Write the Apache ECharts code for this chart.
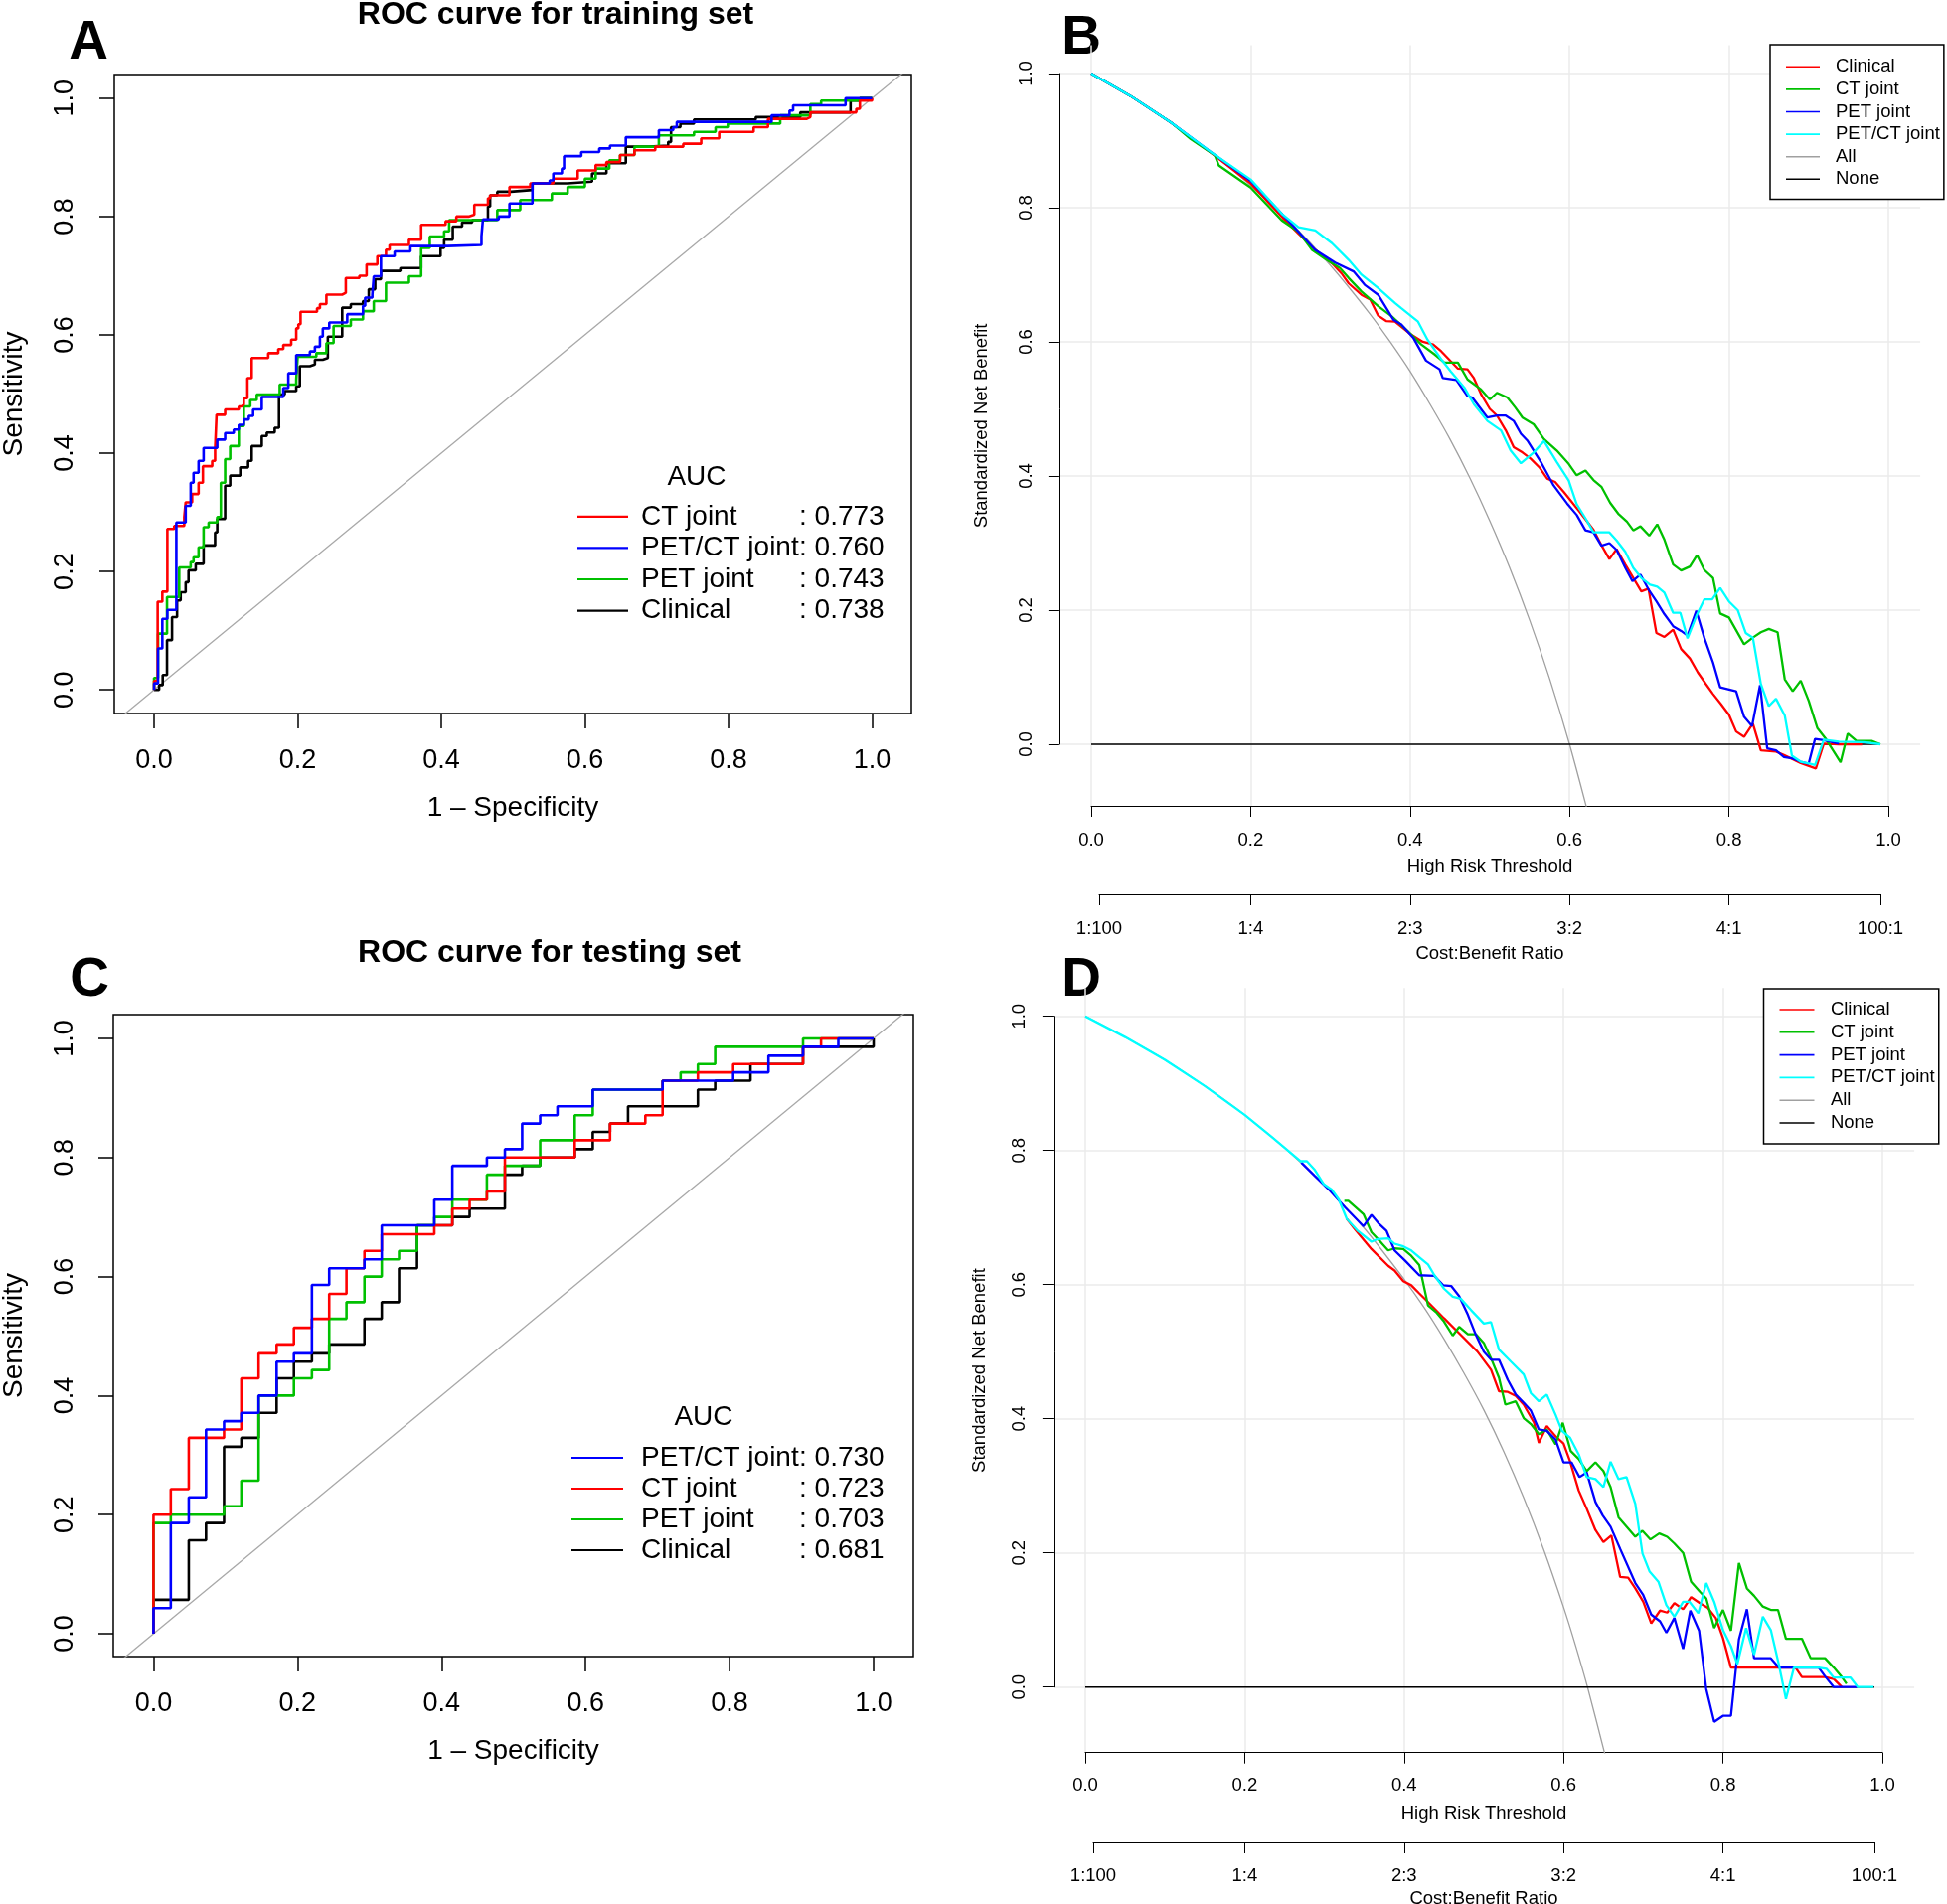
<!DOCTYPE html>
<html><head><meta charset="utf-8">
<script src="https://cdn.jsdelivr.net/npm/echarts@6/dist/echarts.min.js"></script>
<style>html,body{margin:0;padding:0;background:#fff}#c{width:1959px;height:1916px}</style>
</head><body><div id="c"></div>
<script>
// ================= DATA =================
const rocTicks = [0, 0.2, 0.4, 0.6, 0.8, 1.0];
const cbTicks = [0.01, 0.2, 0.4, 0.6, 0.8, 0.99];
const cbLabels = ['1:100', '1:4', '2:3', '3:2', '4:1', '100:1'];
const rocNamesA = ['CT joint', 'PET/CT joint', 'PET joint', 'Clinical'];
const aucA = ['0.773', '0.760', '0.743', '0.738'];
const rocNamesC = ['PET/CT joint', 'CT joint', 'PET joint', 'Clinical'];
const aucC = ['0.730', '0.723', '0.703', '0.681'];
const dcaNames = ['Clinical', 'CT joint', 'PET joint', 'PET/CT joint', 'All', 'None'];
const diagLine = [[-0.07, -0.07], [1.07, 1.07]];

// ROC training set (1-specificity, sensitivity) at each step
const rocA_ct = [[0,0],[0,0.015],[0.005,0.149],[0.0115,0.166],[0.0185,0.272],[0.028,0.277],[0.042,0.292],[0.044,0.317],[0.053,0.331],[0.062,0.35],[0.068,0.378],[0.081,0.387],[0.085,0.407],[0.087,0.465],[0.099,0.474],[0.118,0.479],[0.122,0.482],[0.125,0.493],[0.13,0.527],[0.136,0.561],[0.159,0.569],[0.173,0.576],[0.18,0.583],[0.191,0.592],[0.198,0.611],[0.201,0.618],[0.204,0.639],[0.227,0.645],[0.231,0.652],[0.24,0.668],[0.262,0.671],[0.267,0.696],[0.286,0.7],[0.296,0.719],[0.311,0.733],[0.323,0.744],[0.328,0.752],[0.355,0.761],[0.372,0.786],[0.406,0.792],[0.421,0.8],[0.438,0.803],[0.446,0.82],[0.465,0.831],[0.468,0.836],[0.495,0.85],[0.524,0.856],[0.556,0.864],[0.59,0.878],[0.615,0.887],[0.63,0.892],[0.649,0.904],[0.669,0.912],[0.698,0.918],[0.737,0.923],[0.762,0.932],[0.787,0.943],[0.835,0.951],[0.855,0.965],[0.909,0.968],[0.914,0.976],[0.978,0.982],[0.983,0.996],[1,1]];
const rocA_petct = [[0,0],[0,0.011],[0.0055,0.07],[0.0115,0.12],[0.0185,0.135],[0.031,0.283],[0.044,0.311],[0.051,0.35],[0.055,0.367],[0.062,0.387],[0.069,0.409],[0.088,0.423],[0.099,0.434],[0.111,0.44],[0.118,0.448],[0.125,0.457],[0.132,0.463],[0.138,0.474],[0.15,0.495],[0.18,0.51],[0.187,0.535],[0.198,0.566],[0.217,0.572],[0.224,0.58],[0.231,0.597],[0.235,0.611],[0.244,0.621],[0.269,0.635],[0.291,0.649],[0.294,0.663],[0.304,0.668],[0.306,0.699],[0.316,0.733],[0.335,0.741],[0.357,0.75],[0.409,0.752],[0.456,0.767],[0.458,0.795],[0.48,0.8],[0.495,0.822],[0.527,0.856],[0.551,0.861],[0.556,0.873],[0.568,0.881],[0.571,0.902],[0.595,0.909],[0.62,0.915],[0.635,0.92],[0.657,0.934],[0.703,0.946],[0.723,0.951],[0.728,0.96],[0.86,0.971],[0.885,0.979],[0.89,0.988],[0.963,1],[1,1]];
const rocA_pet = [[0,0],[0,0.02],[0.0055,0.095],[0.018,0.157],[0.035,0.207],[0.051,0.216],[0.055,0.224],[0.062,0.241],[0.069,0.275],[0.076,0.283],[0.088,0.292],[0.093,0.35],[0.099,0.39],[0.106,0.412],[0.118,0.446],[0.125,0.479],[0.134,0.49],[0.143,0.499],[0.175,0.516],[0.198,0.524],[0.2,0.563],[0.226,0.569],[0.24,0.586],[0.25,0.615],[0.274,0.626],[0.291,0.64],[0.306,0.657],[0.323,0.688],[0.355,0.699],[0.372,0.747],[0.384,0.766],[0.404,0.775],[0.411,0.794],[0.478,0.811],[0.51,0.828],[0.554,0.839],[0.576,0.85],[0.6,0.864],[0.615,0.881],[0.634,0.895],[0.649,0.904],[0.669,0.918],[0.703,0.937],[0.752,0.943],[0.782,0.951],[0.799,0.957],[0.872,0.971],[0.914,0.99],[0.929,0.996],[0.983,1],[1,1]];
const rocA_clin = [[0,0],[0.007,0.008],[0.012,0.025],[0.018,0.084],[0.025,0.123],[0.032,0.151],[0.037,0.165],[0.044,0.182],[0.048,0.202],[0.058,0.213],[0.069,0.244],[0.085,0.266],[0.088,0.289],[0.099,0.345],[0.106,0.362],[0.12,0.376],[0.131,0.387],[0.136,0.412],[0.15,0.429],[0.157,0.435],[0.168,0.443],[0.174,0.499],[0.182,0.505],[0.198,0.513],[0.203,0.547],[0.217,0.55],[0.224,0.558],[0.235,0.561],[0.242,0.597],[0.262,0.646],[0.274,0.652],[0.291,0.657],[0.299,0.677],[0.308,0.694],[0.316,0.708],[0.343,0.713],[0.372,0.733],[0.399,0.747],[0.404,0.761],[0.416,0.783],[0.429,0.79],[0.443,0.794],[0.465,0.817],[0.468,0.836],[0.478,0.842],[0.497,0.845],[0.527,0.856],[0.576,0.859],[0.61,0.873],[0.63,0.89],[0.657,0.918],[0.689,0.92],[0.716,0.926],[0.72,0.951],[0.733,0.957],[0.752,0.964],[0.838,0.968],[0.9,0.976],[0.97,0.996],[0.983,1],[1,1]];

// ROC testing set
const rocC_petct = [[0,0],[0,0.043],[0.024,0.186],[0.049,0.229],[0.073,0.343],[0.098,0.357],[0.122,0.371],[0.146,0.4],[0.171,0.457],[0.195,0.471],[0.22,0.586],[0.244,0.614],[0.293,0.629],[0.317,0.686],[0.39,0.729],[0.415,0.786],[0.463,0.8],[0.488,0.814],[0.512,0.857],[0.537,0.871],[0.561,0.886],[0.61,0.914],[0.707,0.929],[0.805,0.943],[0.854,0.971],[0.902,0.986],[0.951,1],[1,1]];
const rocC_ct = [[0,0],[0,0.2],[0.024,0.243],[0.049,0.329],[0.098,0.343],[0.122,0.429],[0.146,0.471],[0.171,0.486],[0.195,0.514],[0.22,0.529],[0.244,0.571],[0.268,0.614],[0.293,0.643],[0.317,0.671],[0.39,0.686],[0.415,0.714],[0.439,0.729],[0.463,0.743],[0.488,0.8],[0.585,0.829],[0.634,0.857],[0.683,0.871],[0.707,0.929],[0.756,0.943],[0.805,0.957],[0.902,0.986],[0.927,1],[1,1]];
const rocC_pet = [[0,0],[0,0.186],[0.024,0.2],[0.098,0.214],[0.122,0.257],[0.146,0.4],[0.195,0.429],[0.22,0.443],[0.244,0.529],[0.268,0.557],[0.293,0.6],[0.317,0.629],[0.341,0.643],[0.366,0.686],[0.39,0.7],[0.415,0.729],[0.463,0.771],[0.488,0.786],[0.537,0.829],[0.585,0.871],[0.61,0.914],[0.707,0.929],[0.732,0.943],[0.756,0.957],[0.78,0.986],[0.902,1],[1,1]];
const rocC_clin = [[0,0],[0,0.057],[0.049,0.157],[0.073,0.186],[0.098,0.314],[0.122,0.329],[0.146,0.371],[0.171,0.429],[0.195,0.457],[0.22,0.471],[0.244,0.486],[0.293,0.529],[0.317,0.557],[0.341,0.614],[0.366,0.686],[0.415,0.7],[0.439,0.714],[0.488,0.771],[0.512,0.786],[0.537,0.8],[0.585,0.814],[0.61,0.843],[0.634,0.857],[0.659,0.886],[0.756,0.914],[0.78,0.929],[0.829,0.957],[0.902,0.986],[1,1]];

// DCA training (threshold, standardized net benefit)
const dcaB_clin = [[0,1],[0.05,0.966],[0.1,0.927],[0.15,0.882],[0.2,0.836],[0.24,0.785],[0.26,0.761],[0.281,0.737],[0.302,0.717],[0.314,0.702],[0.323,0.687],[0.339,0.67],[0.35,0.663],[0.36,0.639],[0.37,0.631],[0.381,0.63],[0.401,0.611],[0.416,0.6],[0.429,0.596],[0.439,0.586],[0.451,0.571],[0.46,0.56],[0.472,0.559],[0.48,0.546],[0.489,0.522],[0.5,0.5],[0.509,0.49],[0.52,0.468],[0.53,0.443],[0.541,0.435],[0.551,0.426],[0.562,0.413],[0.572,0.396],[0.582,0.391],[0.593,0.376],[0.601,0.364],[0.611,0.349],[0.63,0.32],[0.64,0.297],[0.65,0.276],[0.659,0.291],[0.67,0.268],[0.68,0.248],[0.69,0.228],[0.699,0.232],[0.709,0.166],[0.719,0.16],[0.73,0.171],[0.74,0.142],[0.751,0.128],[0.761,0.107],[0.771,0.09],[0.78,0.075],[0.79,0.06],[0.8,0.044],[0.809,0.019],[0.819,0.011],[0.83,0.031],[0.84,-0.009],[0.859,-0.011],[0.869,-0.016],[0.89,-0.028],[0.909,-0.036],[0.919,0.001],[0.938,0],[0.967,0]];
const dcaB_ct = [[0,1],[0.05,0.966],[0.1,0.927],[0.125,0.902],[0.155,0.878],[0.16,0.863],[0.2,0.83],[0.239,0.781],[0.26,0.764],[0.277,0.737],[0.293,0.724],[0.312,0.71],[0.323,0.695],[0.339,0.675],[0.36,0.653],[0.377,0.638],[0.397,0.616],[0.414,0.596],[0.431,0.581],[0.443,0.569],[0.46,0.569],[0.472,0.544],[0.489,0.529],[0.5,0.514],[0.509,0.524],[0.522,0.517],[0.532,0.502],[0.541,0.487],[0.555,0.477],[0.568,0.455],[0.584,0.438],[0.599,0.418],[0.609,0.401],[0.62,0.408],[0.63,0.394],[0.64,0.384],[0.651,0.36],[0.661,0.344],[0.672,0.332],[0.68,0.319],[0.689,0.325],[0.7,0.311],[0.71,0.328],[0.719,0.305],[0.73,0.268],[0.74,0.259],[0.751,0.265],[0.76,0.282],[0.769,0.26],[0.78,0.248],[0.789,0.195],[0.8,0.189],[0.819,0.149],[0.83,0.159],[0.84,0.167],[0.85,0.172],[0.861,0.167],[0.87,0.097],[0.88,0.079],[0.89,0.095],[0.9,0.065],[0.911,0.024],[0.921,0.009],[0.929,-0.006],[0.94,-0.027],[0.949,0.016],[0.96,0.005],[0.979,0.005],[0.99,0]];
const dcaB_pet = [[0,1],[0.05,0.966],[0.1,0.927],[0.15,0.883],[0.2,0.84],[0.239,0.791],[0.26,0.764],[0.281,0.737],[0.306,0.718],[0.329,0.705],[0.343,0.685],[0.36,0.67],[0.379,0.633],[0.389,0.626],[0.404,0.606],[0.42,0.572],[0.437,0.559],[0.441,0.546],[0.458,0.543],[0.472,0.519],[0.478,0.517],[0.497,0.487],[0.509,0.49],[0.52,0.49],[0.53,0.482],[0.539,0.463],[0.547,0.453],[0.564,0.421],[0.58,0.386],[0.597,0.359],[0.609,0.342],[0.62,0.319],[0.63,0.316],[0.64,0.296],[0.65,0.3],[0.659,0.29],[0.67,0.263],[0.679,0.243],[0.689,0.253],[0.699,0.231],[0.709,0.213],[0.719,0.194],[0.73,0.176],[0.74,0.169],[0.748,0.162],[0.759,0.199],[0.769,0.159],[0.78,0.122],[0.789,0.085],[0.809,0.079],[0.819,0.041],[0.829,0.027],[0.839,0.088],[0.848,-0.006],[0.859,-0.009],[0.869,-0.019],[0.879,-0.021],[0.89,-0.026],[0.9,-0.029],[0.908,0.008],[0.919,0.006],[0.938,0.001]];
const dcaB_petct = [[0,1],[0.05,0.966],[0.1,0.927],[0.15,0.883],[0.2,0.842],[0.239,0.791],[0.26,0.771],[0.281,0.766],[0.302,0.747],[0.323,0.722],[0.339,0.7],[0.36,0.68],[0.381,0.658],[0.389,0.65],[0.41,0.63],[0.422,0.603],[0.439,0.574],[0.451,0.556],[0.468,0.532],[0.48,0.507],[0.497,0.482],[0.514,0.468],[0.526,0.438],[0.539,0.419],[0.555,0.435],[0.568,0.452],[0.584,0.421],[0.599,0.393],[0.609,0.358],[0.62,0.337],[0.63,0.316],[0.65,0.316],[0.659,0.304],[0.67,0.287],[0.68,0.263],[0.69,0.248],[0.701,0.238],[0.71,0.235],[0.719,0.226],[0.73,0.196],[0.739,0.196],[0.748,0.158],[0.759,0.191],[0.769,0.216],[0.779,0.216],[0.789,0.233],[0.8,0.213],[0.811,0.2],[0.821,0.166],[0.83,0.159],[0.84,0.09],[0.85,0.057],[0.859,0.068],[0.87,0.043],[0.879,-0.017],[0.89,-0.026],[0.902,-0.029],[0.908,-0.031],[0.919,0.007],[0.938,0.004],[0.969,0.003],[0.99,0]];
const dcaB_all = [[0,1],[0.05,0.965],[0.1,0.926],[0.15,0.882],[0.2,0.833],[0.25,0.778],[0.3,0.714],[0.35,0.641],[0.375,0.6],[0.4,0.556],[0.425,0.507],[0.45,0.455],[0.475,0.397],[0.5,0.333],[0.525,0.263],[0.55,0.185],[0.575,0.098],[0.6,0],[0.625,-0.111]];
const dcaB_none = [[0,0],[0.99,0]];

// DCA testing
const dcaD_clin = [[0.328,0.698],[0.338,0.683],[0.359,0.653],[0.38,0.628],[0.388,0.621],[0.399,0.605],[0.409,0.599],[0.419,0.587],[0.43,0.574],[0.45,0.55],[0.471,0.525],[0.492,0.5],[0.509,0.473],[0.519,0.441],[0.53,0.44],[0.54,0.434],[0.55,0.421],[0.563,0.394],[0.569,0.364],[0.579,0.389],[0.59,0.374],[0.6,0.363],[0.608,0.337],[0.619,0.293],[0.629,0.266],[0.64,0.234],[0.65,0.216],[0.66,0.226],[0.671,0.164],[0.681,0.163],[0.69,0.147],[0.7,0.127],[0.71,0.095],[0.721,0.114],[0.73,0.111],[0.739,0.125],[0.75,0.116],[0.76,0.134],[0.771,0.125],[0.781,0.118],[0.791,0.103],[0.8,0.073],[0.81,0.029],[0.891,0.029],[0.899,0.015],[0.928,0.015],[0.939,0.012],[0.949,0]];
const dcaD_ct = [[0.325,0.725],[0.33,0.725],[0.349,0.705],[0.359,0.678],[0.371,0.663],[0.38,0.651],[0.388,0.654],[0.399,0.653],[0.409,0.643],[0.419,0.629],[0.43,0.569],[0.44,0.559],[0.45,0.545],[0.461,0.524],[0.469,0.537],[0.48,0.526],[0.49,0.526],[0.5,0.513],[0.509,0.49],[0.519,0.461],[0.527,0.421],[0.54,0.426],[0.55,0.401],[0.559,0.392],[0.569,0.377],[0.579,0.384],[0.59,0.362],[0.599,0.394],[0.609,0.352],[0.619,0.34],[0.629,0.322],[0.64,0.335],[0.65,0.322],[0.659,0.298],[0.669,0.253],[0.69,0.224],[0.699,0.233],[0.709,0.22],[0.72,0.229],[0.73,0.224],[0.739,0.214],[0.75,0.2],[0.76,0.157],[0.771,0.142],[0.779,0.132],[0.789,0.088],[0.8,0.115],[0.81,0.084],[0.82,0.185],[0.83,0.147],[0.839,0.136],[0.85,0.12],[0.86,0.115],[0.869,0.115],[0.879,0.072],[0.899,0.072],[0.91,0.043],[0.928,0.043],[0.939,0.029],[0.949,0.015],[0.955,0.005]];
const dcaD_pet = [[0.271,0.782],[0.288,0.762],[0.307,0.74],[0.326,0.715],[0.349,0.687],[0.359,0.704],[0.369,0.69],[0.378,0.68],[0.388,0.651],[0.401,0.636],[0.419,0.614],[0.438,0.613],[0.449,0.599],[0.459,0.598],[0.469,0.583],[0.48,0.555],[0.49,0.525],[0.5,0.5],[0.509,0.488],[0.519,0.488],[0.53,0.458],[0.54,0.436],[0.55,0.424],[0.559,0.412],[0.569,0.384],[0.579,0.382],[0.59,0.369],[0.6,0.335],[0.61,0.335],[0.62,0.313],[0.629,0.32],[0.64,0.276],[0.649,0.256],[0.659,0.239],[0.671,0.206],[0.69,0.155],[0.7,0.137],[0.71,0.108],[0.721,0.098],[0.729,0.081],[0.739,0.103],[0.75,0.057],[0.759,0.114],[0.77,0.084],[0.779,-0.003],[0.789,-0.052],[0.8,-0.043],[0.81,-0.043],[0.82,0.071],[0.83,0.116],[0.839,0.043],[0.86,0.043],[0.87,0.029],[0.92,0.029],[0.928,0.016],[0.939,0],[0.968,0]];
const dcaD_petct = [[0,1],[0.05,0.969],[0.1,0.935],[0.15,0.896],[0.2,0.853],[0.234,0.82],[0.27,0.784],[0.278,0.784],[0.288,0.771],[0.299,0.75],[0.309,0.742],[0.318,0.727],[0.328,0.698],[0.342,0.68],[0.359,0.664],[0.367,0.668],[0.38,0.669],[0.388,0.661],[0.399,0.657],[0.409,0.651],[0.419,0.641],[0.43,0.63],[0.438,0.614],[0.45,0.594],[0.461,0.582],[0.471,0.579],[0.484,0.562],[0.5,0.542],[0.509,0.544],[0.519,0.503],[0.534,0.485],[0.55,0.466],[0.559,0.438],[0.569,0.426],[0.579,0.436],[0.59,0.406],[0.598,0.382],[0.608,0.372],[0.619,0.347],[0.629,0.313],[0.64,0.31],[0.65,0.298],[0.659,0.336],[0.669,0.31],[0.679,0.313],[0.69,0.273],[0.699,0.199],[0.708,0.172],[0.719,0.157],[0.729,0.122],[0.739,0.105],[0.75,0.127],[0.758,0.127],[0.769,0.11],[0.779,0.155],[0.789,0.127],[0.8,0.085],[0.81,0.061],[0.818,0.034],[0.829,0.088],[0.839,0.048],[0.85,0.105],[0.86,0.085],[0.87,0.034],[0.879,-0.018],[0.889,0.029],[0.92,0.029],[0.93,0.027],[0.939,0.014],[0.96,0.014],[0.969,0],[0.989,0]];
const dcaD_all = [[0,1],[0.05,0.969],[0.1,0.935],[0.15,0.896],[0.2,0.853],[0.25,0.804],[0.3,0.748],[0.35,0.684],[0.4,0.608],[0.425,0.566],[0.45,0.519],[0.475,0.468],[0.5,0.413],[0.525,0.351],[0.55,0.282],[0.575,0.205],[0.6,0.119],[0.615,0.062],[0.63,0],[0.655,-0.115]];
const dcaD_none = [[0,0],[0.99,0]];

// ================= STYLE / LAYOUT =================
const FONT = '"Liberation Sans", Arial, Helvetica, sans-serif';
const rocColor = {'CT joint':'#ff0000','PET/CT joint':'#0000ff','PET joint':'#00c000','Clinical':'#000000'};
const dcaColor = {'Clinical':'#ff0000','CT joint':'#00c000','PET joint':'#0000ff','PET/CT joint':'#00ffff','All':'#a0a0a0','None':'#000000'};
const rocDataA = {'CT joint':rocA_ct,'PET/CT joint':rocA_petct,'PET joint':rocA_pet,'Clinical':rocA_clin};
const rocDataC = {'CT joint':rocC_ct,'PET/CT joint':rocC_petct,'PET joint':rocC_pet,'Clinical':rocC_clin};
const dcaDataB = {'Clinical':dcaB_clin,'CT joint':dcaB_ct,'PET joint':dcaB_pet,'PET/CT joint':dcaB_petct,'All':dcaB_all,'None':dcaB_none};
const dcaDataD = {'Clinical':dcaD_clin,'CT joint':dcaD_ct,'PET joint':dcaD_pet,'PET/CT joint':dcaD_petct,'All':dcaD_all,'None':dcaD_none};

const fmt1 = v => v.toFixed(1);
const cbFmt = v => { const i = cbTicks.findIndex(t => Math.abs(t - v) < 1e-6); return i >= 0 ? cbLabels[i] : ''; };
const blk = {color:'#000', width:1};

function grid(l, t, w, h, extra) {
  return Object.assign({left:l, top:t, width:w, height:h, containLabel:false, outerBoundsMode:'none'}, extra || {});
}
function rocXAxis(gi, min, max, margin, gap) {
  return {type:'value', gridIndex:gi, min:min, max:max,
    axisLine:{show:false, onZero:false}, splitLine:{show:false},
    axisTick:{show:true, inside:false, customValues:rocTicks, length:15, lineStyle:{color:'#000', width:1.5}},
    axisLabel:{show:true, customValues:rocTicks, formatter:fmt1, fontSize:27, color:'#000', margin:margin, fontFamily:FONT},
    name:'1 \u2013 Specificity', nameLocation:'middle', nameGap:gap,
    nameTextStyle:{fontSize:28, color:'#000', fontFamily:FONT}};
}
function rocYAxis(gi, min, max, margin, gap) {
  return {type:'value', gridIndex:gi, min:min, max:max,
    axisLine:{show:false, onZero:false}, splitLine:{show:false},
    axisTick:{show:true, inside:false, customValues:rocTicks, length:15, lineStyle:{color:'#000', width:1.5}},
    axisLabel:{show:true, customValues:rocTicks, formatter:fmt1, rotate:90, fontSize:27, color:'#000', margin:margin, fontFamily:FONT},
    name:'Sensitivity', nameLocation:'middle', nameGap:gap,
    nameTextStyle:{fontSize:28, color:'#000', fontFamily:FONT}};
}
function hiddenAxis(gi, min, max, name, gap) {
  const a = {type:'value', gridIndex:gi, min:min, max:max,
    axisLine:{show:false, onZero:false}, axisTick:{show:false}, axisLabel:{show:false}, splitLine:{show:false}};
  if (name) { a.name = name; a.nameLocation = 'middle'; a.nameGap = gap;
    a.nameTextStyle = {fontSize:18.5, color:'#000', fontFamily:FONT}; }
  return a;
}
function dcaAxis(gi, isY, offset, margin) {
  const a = {type:'value', gridIndex:gi, min:0, max:1, interval:0.2, offset:offset,
    axisLine:{show:true, onZero:false, lineStyle:blk}, splitLine:{show:false},
    axisTick:{show:true, inside:false, length:11, lineStyle:blk},
    axisLabel:{formatter:fmt1, fontSize:18.5, color:'#000', margin:margin, fontFamily:FONT}};
  if (isY) a.axisLabel.rotate = 90;
  return a;
}
function cbAxis(gi, margin, gap) {
  return {type:'value', gridIndex:gi, min:0.01, max:0.99,
    axisLine:{show:true, onZero:false, lineStyle:blk}, splitLine:{show:false},
    axisTick:{show:true, inside:false, customValues:cbTicks, length:11, lineStyle:blk},
    axisLabel:{show:true, customValues:cbTicks, formatter:cbFmt, fontSize:18.5, color:'#000', margin:margin, fontFamily:FONT},
    name:'Cost:Benefit Ratio', nameLocation:'middle', nameGap:gap,
    nameTextStyle:{fontSize:18.5, color:'#000', fontFamily:FONT}};
}

const grids = [
  grid(115, 75, 802, 643, {show:true, borderColor:'#000', borderWidth:1.5, backgroundColor:'transparent'}),   // 0 A
  grid(114, 1021, 805, 646, {show:true, borderColor:'#000', borderWidth:1.5, backgroundColor:'transparent'}), // 1 C
  grid(1065.9, 45.6, 866.2, 765.5),   // 2 B data
  grid(1098, 74, 802, 675),           // 3 B axes
  grid(1106, 880, 786, 20),           // 4 B cost:benefit
  grid(1059.9, 994.35, 866.2, 769.4), // 5 D data
  grid(1092, 1022.7, 802, 675),       // 6 D axes
  grid(1100, 1834, 786, 20)           // 7 D cost:benefit
];
const xAxes = [
  rocXAxis(0, -0.0554, 1.0547, 34.5, 81),
  rocXAxis(1, -0.0558, 1.0552, 34, 81),
  hiddenAxis(2, -0.04, 1.04, 'High Risk Threshold', 51.7),
  dcaAxis(3, false, 62, 25),
  cbAxis(4, 25, 50),
  hiddenAxis(5, -0.04, 1.04, 'High Risk Threshold', 51.4),
  dcaAxis(6, false, 66, 24),
  cbAxis(7, 24, 47)
];
const yAxes = [
  rocYAxis(0, -0.04, 1.04, 35.5, 87),
  rocYAxis(1, -0.0384, 1.04, 34.5, 86),
  hiddenAxis(2, -0.092, 1.042, 'Standardized Net Benefit', 68),
  dcaAxis(3, true, 32.1, 23.5),
  hiddenAxis(4, 0, 1),
  hiddenAxis(5, -0.0979, 1.042, 'Standardized Net Benefit', 64),
  dcaAxis(6, true, 32.1, 24),
  hiddenAxis(7, 0, 1)
];

const series = [];
// ROC diagonals
[0, 1].forEach(gi => series.push({type:'line', name:'diag'+gi, xAxisIndex:gi, yAxisIndex:gi, data:diagLine,
  symbol:'none', silent:true, lineStyle:{color:'#a8a8a8', width:1.3}, z:2}));
// ROC curves (draw order)
const rocOrder = ['Clinical', 'PET joint', 'CT joint', 'PET/CT joint'];
rocOrder.forEach(n => series.push({type:'line', name:'A_'+n, xAxisIndex:0, yAxisIndex:0, data:rocDataA[n], step:'end',
  symbol:'none', silent:true, lineStyle:{color:rocColor[n], width:2.6}, itemStyle:{color:rocColor[n]}, z:3}));
rocOrder.forEach(n => series.push({type:'line', name:'C_'+n, xAxisIndex:1, yAxisIndex:1, data:rocDataC[n], step:'end',
  symbol:'none', silent:true, lineStyle:{color:rocColor[n], width:2.6}, itemStyle:{color:rocColor[n]}, z:3}));
// DCA grid lines (kept underneath the curves)
const gridVals = [0, 0.2, 0.4, 0.6, 0.8, 1.0];
[2, 5].forEach(gi => series.push({type:'line', name:'grid'+gi, xAxisIndex:gi, yAxisIndex:gi, data:[[0,0]], symbol:'none',
  silent:true, lineStyle:{opacity:0}, z:0,
  markLine:{silent:true, z:0, symbol:['none','none'], label:{show:false}, emphasis:{disabled:true},
    lineStyle:{color:'#ebebeb', width:1.5, type:'solid'},
    data: gridVals.map(v => ({xAxis:v})).concat(gridVals.map(v => ({yAxis:v})))}}));
// DCA curves
[['B_', 2, dcaDataB], ['D_', 5, dcaDataD]].forEach(([p, gi, dd]) => {
  dcaNames.forEach(n => {
    const isRef = (n === 'All' || n === 'None');
    series.push({type:'line', name:p+n, xAxisIndex:gi, yAxisIndex:gi, data:dd[n], symbol:'none', silent:true,
      smooth: n === 'All' ? 0.3 : false,
      lineStyle:{color:dcaColor[n], width: n === 'All' ? 1.3 : (n === 'None' ? 1.5 : 2.3)},
      itemStyle:{color:dcaColor[n]}, z: isRef ? 6 : 7});
  });
});

function rocLegend(prefix, names, aucs, left, top, iconW, rowH, spacer) {
  return {show:true, orient:'vertical', left:left, top:top, padding:0, itemGap:0, itemWidth:iconW, itemHeight:2.2,
    icon:'rect', selectedMode:false, data:names.map(n => prefix+n),
    formatter: name => { const n = name.slice(2); const i = names.indexOf(n);
      return '{s|}{n|' + n + '}{v|: ' + aucs[i] + '}'; },
    textStyle:{fontSize:28, color:'#000', fontFamily:FONT, lineHeight:rowH,
      rich:{s:{width:spacer, lineHeight:rowH}, n:{width:159, fontSize:28, lineHeight:rowH, fontFamily:FONT, color:'#000'},
            v:{fontSize:28, lineHeight:rowH, fontFamily:FONT, color:'#000'}}}};
}
function dcaLegend(prefix, left, top, pad, iconW, rowH, spacer) {
  return {show:true, orient:'vertical', left:left, top:top, padding:pad, itemGap:0, itemWidth:iconW, itemHeight:1.6,
    icon:'rect', selectedMode:false, data:dcaNames.map(n => prefix+n), borderColor:'#000', borderWidth:1.5, backgroundColor:'#fff',
    formatter: name => '{s|}{n|' + name.slice(2) + '}',
    textStyle:{fontSize:18.5, color:'#000', fontFamily:FONT, lineHeight:rowH,
      rich:{s:{width:spacer, lineHeight:rowH}, n:{fontSize:18.5, lineHeight:rowH, fontFamily:FONT, color:'#000'}}}};
}

const legends = [
  rocLegend('A_', rocNamesA, aucA, 581, 504, 51, 31.6, 8),
  rocLegend('C_', rocNamesC, aucC, 575, 1451.5, 52, 31, 13),
  dcaLegend('B_', 1781, 45, [11, 4, 9, 16], 34, 22.6, 11),
  dcaLegend('D_', 1774.5, 995, [9.6, 4, 9.6, 16], 35, 22.8, 11.4)
];

function txt(x, y, s, font) {
  return {type:'text', x:x, y:y, silent:true,
    style:{text:s, font:font, fill:'#000', textAlign:'center', textVerticalAlign:'middle'}};
}
const graphics = [
  txt(559, 15, 'ROC curve for training set', 'bold 32px ' + FONT),
  txt(553, 959, 'ROC curve for testing set', 'bold 32px ' + FONT),
  txt(89, 44, 'A', 'bold 55px ' + FONT),
  txt(1088, 39, 'B', 'bold 55px ' + FONT),
  txt(90, 987, 'C', 'bold 55px ' + FONT),
  txt(1088, 987, 'D', 'bold 55px ' + FONT),
  txt(701, 480, 'AUC', '28px ' + FONT),
  txt(708, 1426, 'AUC', '28px ' + FONT)
];

const chart = echarts.init(document.getElementById('c'), null, {renderer:'canvas', width:1959, height:1916});
chart.setOption({
  animation:false,
  backgroundColor:'#fff',
  textStyle:{fontFamily:FONT},
  grid:grids, xAxis:xAxes, yAxis:yAxes,
  legend:legends, graphic:graphics, series:series
});
</script></body></html>
